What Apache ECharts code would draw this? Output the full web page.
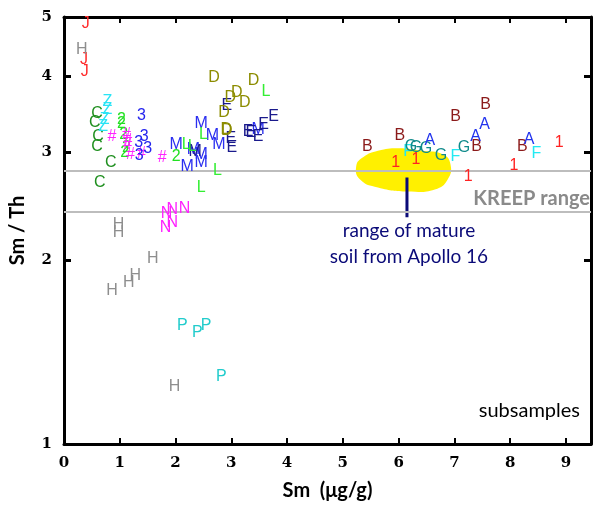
<!DOCTYPE html>
<html><head><meta charset="utf-8">
<script src="https://cdn.jsdelivr.net/npm/echarts@6/dist/echarts.min.js"></script>
<style>html,body{margin:0;padding:0;background:#fff;overflow:hidden;width:100%;height:100%}#c{width:100vw;height:100vh}</style>
</head><body><div id="c"></div>
<script>
// Sm (ug/g), Sm/Th
const xTicks = [0,1,2,3,4,5,6,7,8,9];
const yTicks = [1,2,3,4,5];
const kreepRange = [2.4, 2.8];
const ptsJ = [[0.39,4.88],[0.36,4.26],[0.37,4.07]];
const ptsH = [[0.32,4.42],[0.98,2.29],[0.98,2.22],[1.59,2.01],[1.16,1.84],[1.28,1.89],[0.86,1.78],[1.98,1.24]];
const ptsZ = [[0.78,3.64],[0.78,3.53],[0.73,3.40],[0.70,3.31]];
const ptsC = [[0.59,3.47],[0.55,3.36],[0.61,3.18],[0.59,3.07],[0.84,2.89],[0.64,2.68]];
const pts2 = [[1.03,3.40],[1.03,3.35],[1.07,3.21],[1.12,3.06],[1.09,3.00],[2.01,2.95]];
const ptsHash = [[0.86,3.18],[1.12,3.21],[1.14,3.14],[1.14,3.09],[1.19,2.98],[1.39,2.99],[1.76,2.94]];
const pts3 = [[1.39,3.45],[1.44,3.18],[1.34,3.12],[1.50,3.04],[1.35,2.96]];
const ptsM = [[2.01,3.09],[2.46,3.35],[2.66,3.20],[2.78,3.09],[2.32,3.03],[2.46,2.98],[2.21,2.85],[2.46,2.89],[3.48,3.27]];
const ptsMdark = [[2.35,3.01]];
const ptsE = [[2.92,3.58],[2.99,3.16],[3.01,3.06],[3.30,3.25],[3.35,3.24],[3.48,3.18],[3.58,3.33],[3.76,3.44]];
const ptsD = [[2.69,3.98],[3.40,3.93],[3.10,3.76],[2.98,3.69],[3.24,3.62],[2.87,3.49],[2.91,3.27],[2.92,3.26]];
const ptsL = [[3.62,3.78],[2.50,3.21],[2.19,3.09],[2.30,3.07],[2.75,2.80],[2.46,2.63]];
const ptsN = [[1.84,2.38],[1.94,2.42],[2.16,2.43],[1.82,2.26],[1.94,2.30]];
const ptsP = [[2.12,1.56],[2.39,1.52],[2.55,1.56],[2.82,1.29]];
const ptsB = [[5.44,3.07],[6.02,3.20],[7.02,3.44],[7.56,3.59],[7.40,3.07],[8.22,3.07]];
const ptsA = [[6.56,3.14],[7.54,3.33],[7.38,3.18],[8.34,3.15]];
const ptsG = [[6.22,3.07],[6.31,3.06],[6.49,3.05],[6.76,2.97],[7.17,3.06]];
const ptsF = [[6.17,3.01],[7.02,2.95],[8.47,2.99]];
const pts1 = [[5.95,2.89],[6.31,2.92],[7.25,2.74],[8.07,2.86],[8.88,3.11]];
const soilRange = [[5.24,2.85],[5.37,2.95],[5.63,3.02],[5.99,3.05],[6.43,3.02],[6.79,2.98],[6.93,2.87],[6.88,2.71],[6.65,2.61],[6.17,2.59],[5.63,2.63],[5.31,2.71]];
const pointerLine = [[6.15,2.73],[6.15,2.35]];

const groups = [
  ['F', ptsF, '#22eaf2'],
  ['G', ptsG, '#118b8b'],
  ['J', ptsJ, '#ff2a2a'],
  ['H', ptsH, '#8e8e8e'],
  ['C', ptsC, '#1f8f1f'],
  ['Z', ptsZ, '#2ae4f5'],
  ['2', pts2, '#22e022'],
  ['#', ptsHash, '#ff22ff'],
  ['3', pts3, '#2424ee'],
  ['M', ptsM, '#2a2ef0'],
  ['M', ptsMdark, '#1a1a8c'],
  ['E', ptsE, '#1a1a8c'],
  ['D', ptsD, '#8c8c00'],
  ['L', ptsL, '#33ee33'],
  ['N', ptsN, '#ff22ff'],
  ['P', ptsP, '#22cccc'],
  ['B', ptsB, '#8b1a1a'],
  ['A', ptsA, '#2233ee'],
  ['1', pts1, '#ff2222']
];

const chart = echarts.init(document.getElementById('c'));
const X0 = 0, X1 = 9.45;
const gridCfg = {left:64, right:5, top:17, bottom:60};
const tickFont = {fontFamily:'DejaVu Serif', fontWeight:'bold', fontSize:15, color:'#000'};

const series = [];
series.push({
  type:'custom', z:1, silent:true,
  renderItem:function(params, api){
    const pts = soilRange.map(p => api.coord(p));
    return {type:'polygon', shape:{points:pts, smooth:0.5}, style:{fill:'#fff000'}};
  },
  data:[[0,0]]
});
series.push({
  type:'line', data:pointerLine, symbol:'none', z:3, silent:true,
  lineStyle:{color:'#0a0a78', width:3}
});
series.push({
  type:'line', data:[], z:2, silent:true,
  markLine:{symbol:'none', silent:true, label:{show:false},
    lineStyle:{color:'#bdbdbd', width:2, type:'solid'},
    data: kreepRange.map(v => ({yAxis:v}))}
});
// binds the frame's top and right axes
series.push({type:'scatter', xAxisIndex:1, yAxisIndex:1, data:[[X0,1],[X1,5]], symbolSize:0, silent:true, itemStyle:{color:'rgba(0,0,0,0)'}});
groups.forEach(g => {
  series.push({
    type:'scatter', name:g[0], data:g[1], symbolSize:1, z:5,
    itemStyle:{color:'rgba(0,0,0,0)', opacity:1},
    label:{show:true, position:'inside', formatter:g[0], color:g[2],
      fontFamily:'Liberation Sans', fontSize:16, opacity:1}
  });
});

chart.setOption({
  animation:false,
  grid: gridCfg,
  xAxis:[{
    type:'value', min:X0, max:X1, interval:1,
    axisLine:{onZero:false, lineStyle:{color:'#000', width:3}},
    axisTick:{inside:true, length:6, lineStyle:{color:'#000', width:2}},
    axisLabel:{...tickFont, margin:12, customValues:xTicks},
    splitLine:{show:false},
    name:'Sm  (\u03bcg/g)', nameLocation:'middle', nameGap:37,
    nameTextStyle:{fontFamily:'Lato', fontWeight:'bold', fontSize:20, color:'#000'}
  },{
    type:'value', position:'top', min:X0, max:X1, interval:1,
    axisLine:{onZero:false, lineStyle:{color:'#000', width:3}},
    axisTick:{show:true, inside:true, length:6, lineStyle:{color:'#000', width:2}},
    axisLabel:{show:false}, splitLine:{show:false}
  }],
  yAxis:[{
    type:'log', min:1, max:5, logBase:10,
    axisLine:{show:true, onZero:false, lineStyle:{color:'#000', width:3}},
    axisTick:{show:true, inside:true, length:7, customValues:yTicks, lineStyle:{color:'#000', width:3}},
    axisLabel:{...tickFont, margin:12, customValues:yTicks},
    splitLine:{show:false}, minorTick:{show:false},
    name:'Sm / Th', nameLocation:'middle', nameGap:36, nameRotate:90,
    nameTextStyle:{fontFamily:'Lato', fontWeight:'bold', fontSize:20, color:'#000'}
  },{
    type:'log', position:'right', min:1, max:5, logBase:10,
    axisLine:{show:true, onZero:false, lineStyle:{color:'#000', width:3}},
    axisTick:{show:true, inside:true, length:7, customValues:yTicks, lineStyle:{color:'#000', width:3}},
    axisLabel:{show:false}, splitLine:{show:false}
  }],
  graphic:[
    {type:'text', right:6, top:189, style:{text:'KREEP range', fill:'#8a8a8a', font:'bold 20px Lato'}},
    {type:'text', right:16, top:401, style:{text:'subsamples', fill:'#000', font:'20px Lato'}},
    {type:'text', x:409, y:231, style:{text:'range of mature', fill:'#0a0a78', font:'19px Lato', textAlign:'center', textVerticalAlign:'middle'}},
    {type:'text', x:409, y:257, style:{text:'soil from Apollo 16', fill:'#0a0a78', font:'19px Lato', textAlign:'center', textVerticalAlign:'middle'}}
  ],
  series: series
});
</script></body></html>
